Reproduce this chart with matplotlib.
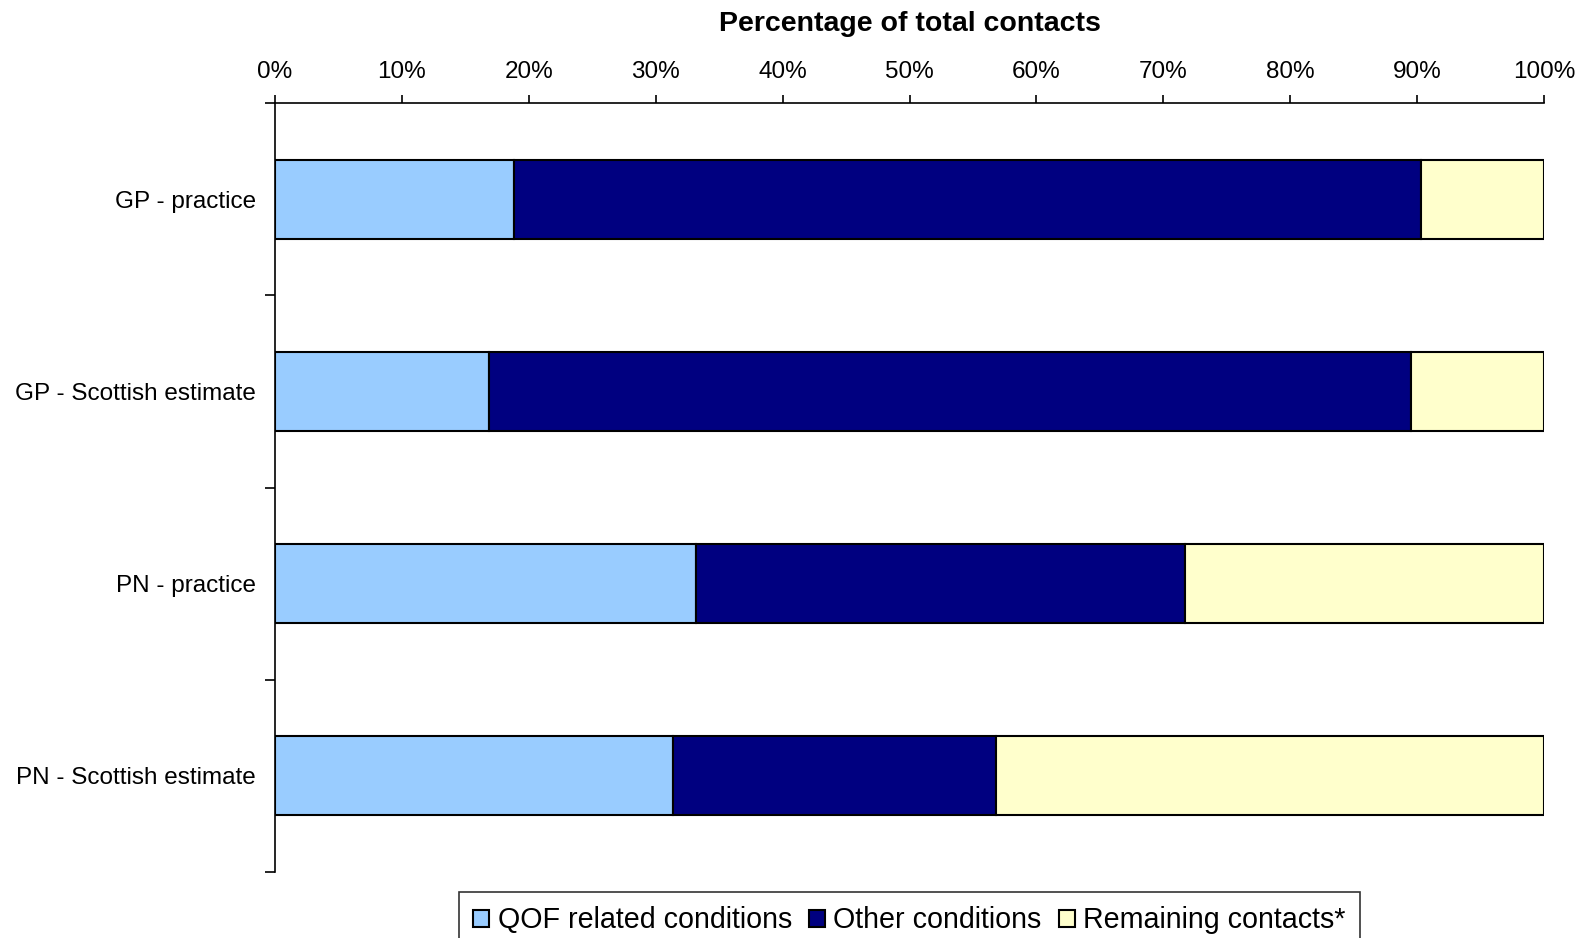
import matplotlib.pyplot as plt
import numpy as np
from matplotlib.ticker import FixedLocator, PercentFormatter

categories = ["GP - practice", "GP - Scottish estimate", "PN - practice", "PN - Scottish estimate"]
qof = [18.8, 16.9, 33.2, 31.4]
other = [71.5, 72.6, 38.5, 25.4]
remaining = [9.7, 10.5, 28.3, 43.2]

series = [
    ("QOF related conditions", qof, "#99CCFF"),
    ("Other conditions", other, "#000080"),
    ("Remaining contacts*", remaining, "#FFFFCC"),
]

plt.rcParams["font.family"] = ["Liberation Sans", "DejaVu Sans"]

fig = plt.figure(figsize=(15.85, 9.38), dpi=100)
ax = fig.add_axes([275 / 1585, 1 - 872 / 938, (1544 - 275) / 1585, (872 - 103) / 938])

y = np.arange(len(categories))
left = np.zeros(len(categories))
for name, vals, color in series:
    ax.barh(y, vals, left=left, height=0.41, color=color, edgecolor="black",
            linewidth=1.5, label=name)
    left += np.array(vals)

ax.set_xlim(0, 100)
ax.set_ylim(len(categories) - 0.5, -0.5)

ax.xaxis.tick_top()
ax.xaxis.set_label_position("top")
ax.set_xticks(np.arange(0, 101, 10))
ax.xaxis.set_major_formatter(PercentFormatter(decimals=0))
ax.tick_params(axis="x", direction="out", length=6, width=1.2, labelsize=17.5, pad=8.5)
ax.set_xlabel("Percentage of total contacts", fontsize=20.5, fontweight="bold", labelpad=21.5)

ax.set_yticks(y)
ax.set_yticklabels(categories)
ax.tick_params(axis="y", which="major", length=0, labelsize=17.5, pad=13.5)
ax.yaxis.set_minor_locator(FixedLocator(np.arange(len(categories) + 1) - 0.5))
ax.tick_params(axis="y", which="minor", direction="out", length=7, width=1.2)

for s in ["right", "bottom"]:
    ax.spines[s].set_visible(False)
for s in ["top", "left"]:
    ax.spines[s].set_linewidth(1.2)

leg = fig.legend(loc="upper center", bbox_to_anchor=((275 + 1544) / 2 / 1585, 1 - 892 / 938),
                 ncol=3, frameon=True, fancybox=False, edgecolor="black",
                 prop={"size": 20.6},
                 handlelength=0.55, handleheight=0.55, handletextpad=0.3,
                 columnspacing=0.6, borderpad=0.5, borderaxespad=0)
leg.get_frame().set_linewidth(1.2)

fig.savefig("out.png", dpi=100)
